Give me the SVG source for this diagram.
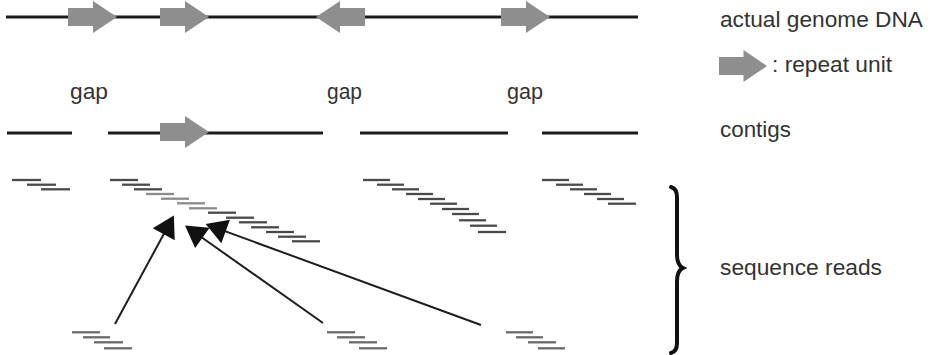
<svg xmlns="http://www.w3.org/2000/svg" xmlns:xlink="http://www.w3.org/1999/xlink" width="930" height="355" viewBox="0 0 930 355">
  <style>
    .label { font-family: "Liberation Sans", Arial, sans-serif; font-size: 22px; fill: #333333; }
    .dna { stroke: #1c1c1c; stroke-width: 3; fill: none; }
    .repeat { fill: #8e8e8e; }
    .read { stroke: #4a4a4a; stroke-width: 2.3; fill: none; }
    .read.light { stroke: #8c8c8c; }
    .read.low { stroke: #6a6a6a; }
    .link { stroke: #1e1e1e; stroke-width: 2; fill: none; marker-end: url(#head); }
    .brace { stroke: #111111; stroke-width: 4; fill: none; stroke-linecap: round; }
  </style>
  <defs>
    <!-- repeat unit: block arrow pointing right, origin at tail centre -->
    <path id="unit" d="M0,-9 H25 V-16 L49,0 L25,16 V9 H0 Z"/>
    <marker id="head" markerUnits="userSpaceOnUse" markerWidth="30" markerHeight="30" viewBox="-10 -12 22 24" refX="0" refY="0" orient="auto">
      <path d="M10,0 L-7,-10 L-7,10 Z" fill="#111111"/>
    </marker>
  </defs>

  <rect width="930" height="355" fill="#ffffff"/>

  <!-- genome row -->
  <g id="genome">
    <line class="dna" x1="6" y1="17" x2="638" y2="17"/>
    <use xlink:href="#unit" class="repeat" transform="translate(68,17)"/>
    <use xlink:href="#unit" class="repeat" transform="translate(160,17)"/>
    <use xlink:href="#unit" class="repeat" transform="translate(365,17) scale(-1,1)"/>
    <use xlink:href="#unit" class="repeat" transform="translate(501,17)"/>
  </g>

  <!-- gap labels -->
  <g id="gaps">
    <text class="label" x="70" y="99" textLength="38" lengthAdjust="spacingAndGlyphs">gap</text>
    <text class="label" x="327" y="99" textLength="35" lengthAdjust="spacingAndGlyphs">gap</text>
    <text class="label" x="507" y="99" textLength="36" lengthAdjust="spacingAndGlyphs">gap</text>
  </g>

  <!-- contig row -->
  <g id="contigs">
    <line class="dna" x1="7" y1="133" x2="72" y2="133"/>
    <line class="dna" x1="108" y1="133" x2="323" y2="133"/>
    <use xlink:href="#unit" class="repeat" transform="translate(160,132)"/>
    <line class="dna" x1="360" y1="133" x2="508" y2="133"/>
    <line class="dna" x1="542" y1="133" x2="638" y2="133"/>
  </g>

  <!-- legend -->
  <g id="legend">
    <text class="label" x="720" y="27" textLength="203" lengthAdjust="spacingAndGlyphs">actual genome DNA</text>
    <use xlink:href="#unit" class="repeat" transform="translate(719,66) scale(0.98,1)"/>
    <text class="label" x="772" y="72" textLength="120" lengthAdjust="spacingAndGlyphs">: repeat unit</text>
    <text class="label" x="720" y="137" textLength="71" lengthAdjust="spacingAndGlyphs">contigs</text>
    <text class="label" x="720" y="275" textLength="162" lengthAdjust="spacingAndGlyphs">sequence reads</text>
  </g>

  <!-- read tilings under each contig -->
  <g id="reads-1">
    <line class="read" x1="12" y1="180" x2="41" y2="180"/>
    <line class="read" x1="27" y1="184.7" x2="56" y2="184.7"/>
    <line class="read" x1="41" y1="189.3" x2="70" y2="189.3"/>
  </g>
  <g id="reads-2">
    <line class="read" x1="110" y1="180" x2="138" y2="180"/>
    <line class="read" x1="122" y1="184.7" x2="150" y2="184.7"/>
    <line class="read" x1="134" y1="189.3" x2="162" y2="189.3"/>
    <line class="read light" x1="146" y1="194" x2="174" y2="194"/>
    <line class="read light" x1="161" y1="198.7" x2="189" y2="198.7"/>
    <line class="read light" x1="177" y1="203.3" x2="205" y2="203.3"/>
    <line class="read light" x1="189" y1="208.3" x2="217" y2="208.3"/>
    <line class="read" x1="208" y1="212.7" x2="236" y2="212.7"/>
    <line class="read" x1="226" y1="217.7" x2="254" y2="217.7"/>
    <line class="read" x1="239" y1="222.3" x2="267" y2="222.3"/>
    <line class="read" x1="251" y1="227.3" x2="279" y2="227.3"/>
    <line class="read" x1="266" y1="232" x2="294" y2="232"/>
    <line class="read" x1="278" y1="236.7" x2="306" y2="236.7"/>
    <line class="read" x1="292" y1="241.3" x2="320" y2="241.3"/>
  </g>
  <g id="reads-3">
    <line class="read" x1="363" y1="180" x2="390" y2="180"/>
    <line class="read" x1="377" y1="184.7" x2="404" y2="184.7"/>
    <line class="read" x1="392" y1="189.3" x2="419" y2="189.3"/>
    <line class="read" x1="406" y1="194" x2="433" y2="194"/>
    <line class="read" x1="418" y1="199" x2="445" y2="199"/>
    <line class="read" x1="430" y1="203.7" x2="457" y2="203.7"/>
    <line class="read" x1="442" y1="209" x2="469" y2="209"/>
    <line class="read" x1="452" y1="214" x2="479" y2="214"/>
    <line class="read" x1="459" y1="220.3" x2="486" y2="220.3"/>
    <line class="read" x1="470" y1="225.7" x2="497" y2="225.7"/>
    <line class="read" x1="478" y1="232" x2="506" y2="232"/>
  </g>
  <g id="reads-4">
    <line class="read" x1="542" y1="180" x2="569" y2="180"/>
    <line class="read" x1="556" y1="184.7" x2="583" y2="184.7"/>
    <line class="read" x1="570" y1="189.3" x2="597" y2="189.3"/>
    <line class="read" x1="584" y1="194" x2="611" y2="194"/>
    <line class="read" x1="597" y1="199" x2="624" y2="199"/>
    <line class="read" x1="608" y1="203.7" x2="636" y2="203.7"/>
  </g>

  <!-- repeat-derived reads at the bottom -->
  <g id="repeat-reads-a">
    <line class="read low" x1="72" y1="332.3" x2="100" y2="332.3"/>
    <line class="read low" x1="83" y1="337.3" x2="110" y2="337.3"/>
    <line class="read low" x1="94" y1="342.3" x2="123" y2="342.3"/>
    <line class="read low" x1="104" y1="348.3" x2="132" y2="348.3"/>
  </g>
  <g id="repeat-reads-b">
    <line class="read low" x1="327" y1="332.3" x2="355" y2="332.3"/>
    <line class="read low" x1="337" y1="337.3" x2="365" y2="337.3"/>
    <line class="read low" x1="349" y1="342.3" x2="377" y2="342.3"/>
    <line class="read low" x1="359" y1="348.3" x2="387" y2="348.3"/>
  </g>
  <g id="repeat-reads-c">
    <line class="read low" x1="506" y1="332.3" x2="533" y2="332.3"/>
    <line class="read low" x1="516" y1="337.3" x2="543" y2="337.3"/>
    <line class="read low" x1="528" y1="342.3" x2="556" y2="342.3"/>
    <line class="read low" x1="538" y1="348.3" x2="565" y2="348.3"/>
  </g>

  <!-- connectors: bottom reads mapped into the repeat position -->
  <g id="connectors">
    <line class="link" x1="115" y1="324" x2="167.9" y2="226.5"/>
    <line class="link" x1="323" y1="323" x2="195.2" y2="232.8"/>
    <line class="link" x1="481" y1="325" x2="217.4" y2="228.4"/>
  </g>

  <!-- brace grouping the reads -->
  <g id="brace">
    <path class="brace" d="M671,187 C675,188 677,191 677,197 L677,255 C677,262 679,266 683,268 C679,270 677,274 677,281 L677,343 C677,349 675,352 671,353"/>
  </g>
</svg>
